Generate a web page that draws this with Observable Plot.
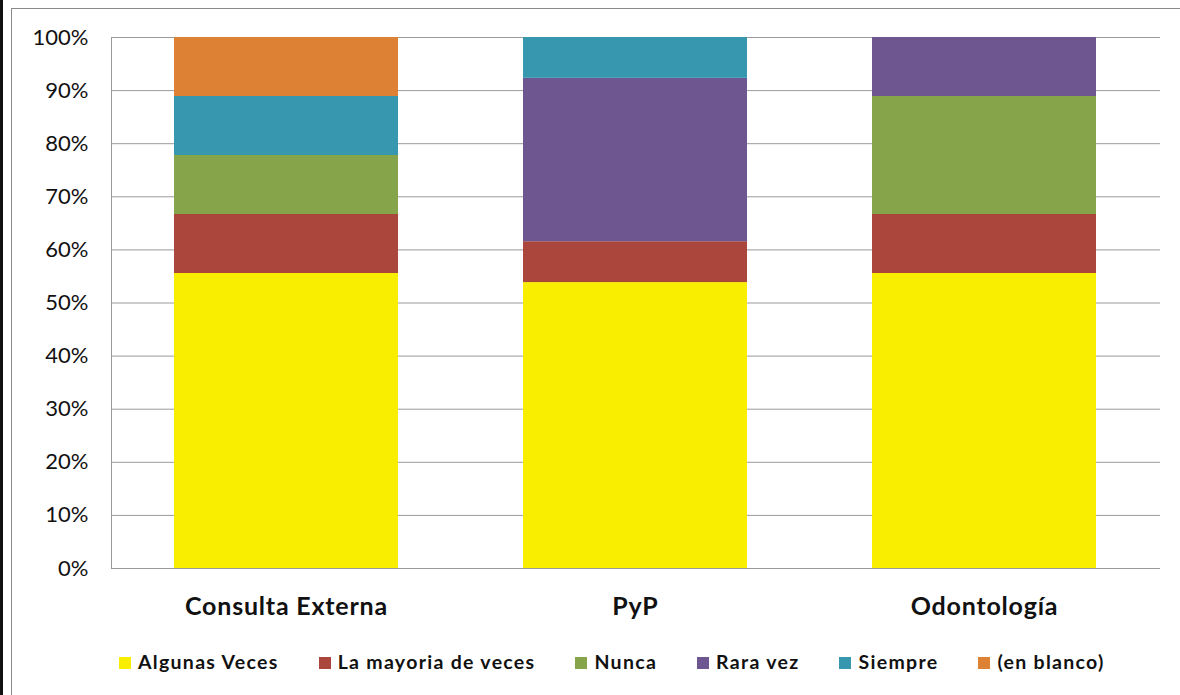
<!DOCTYPE html>
<html>
<head>
<meta charset="utf-8">
<script src="https://cdn.jsdelivr.net/npm/d3@7"></script>
<script src="https://cdn.jsdelivr.net/npm/@observablehq/plot@0.6"></script>
<style>
  html, body { margin: 0; padding: 0; background: #fff; }
  #wrap { position: relative; width: 1180px; height: 695px; overflow: hidden; font-family: Lato, "Open Sans", sans-serif; }
  #strip { position: absolute; left: 0; top: 0; width: 3px; height: 695px; background: #111; }
  #border { position: absolute; left: 11px; top: 8px; width: 1200px; height: 720px; border: 1px solid #8a8a8a; box-sizing: border-box; }
  #chart { position: absolute; left: 0; top: 0; }
  #legend { position: absolute; left: 119px; top: 650px; display: flex; align-items: center; font-weight: 700; font-size: 19.5px; letter-spacing: 1.3px; color: #111; white-space: nowrap; }
  .item { display: flex; align-items: center; margin-right: 40px; }
  .sw { width: 12px; height: 12px; margin-right: 7px; margin-top: 2px; }
</style>
</head>
<body>
<div id="wrap">
  <div id="strip"></div>
  <div id="border"></div>
  <div id="chart"></div>
  <div id="legend"></div>
</div>
<script>
const categories = ["Consulta Externa", "PyP", "Odontología"];
const respuestas = ["Algunas Veces", "La mayoria de veces", "Nunca", "Rara vez", "Siempre", "(en blanco)"];
const colores = ["#F9ED00", "#AB463D", "#86A44A", "#6E5790", "#3797AF", "#DD8135"];

// counts per category (Consulta Externa, PyP, Odontología)
const algunasVeces = [5, 7, 5];
const laMayoria    = [1, 1, 1];
const nunca        = [1, 0, 2];
const raraVez      = [0, 4, 1];
const siempre      = [1, 1, 0];
const enBlanco     = [1, 0, 0];

const yTicks = [0, 0.1, 0.2, 0.3, 0.4, 0.5, 0.6, 0.7, 0.8, 0.9, 1];

const series = [algunasVeces, laMayoria, nunca, raraVez, siempre, enBlanco];
const rows = [];
respuestas.forEach((r, i) => {
  categories.forEach((c, j) => {
    rows.push({cat: c, resp: r, n: series[i][j]});
  });
});

const plot = Plot.plot({
  width: 1180,
  height: 640,
  marginTop: 37,
  marginBottom: 72,
  marginLeft: 111,
  marginRight: 20,
  style: { fontFamily: "Lato, 'Open Sans', sans-serif", background: "transparent", color: "#111" },
  x: { domain: categories, paddingInner: 0.357, paddingOuter: 0.1785, label: null },
  y: { domain: [0, 1], label: null },
  color: { domain: respuestas, range: colores },
  marks: [
    Plot.gridY(yTicks, { stroke: "#9a9a9a", strokeOpacity: 1, strokeWidth: 1 }),
    Plot.barY(rows, { x: "cat", y: "n", fill: "resp", offset: "normalize", order: respuestas }),
    Plot.ruleY([0], { stroke: "#9a9a9a", strokeWidth: 1 }),
    Plot.frame({ anchor: "left", stroke: "#9a9a9a" }),
    Plot.axisY(yTicks, { tickSize: 0, tickPadding: 23, tickFormat: d3.format(".0%"), fontSize: 22, label: null }),
    Plot.axisX({ tickSize: 0, tickPadding: 29, fontSize: 25, fontWeight: 700, letterSpacing: 0.8, label: null })
  ]
});
document.getElementById("chart").appendChild(plot);
plot.querySelectorAll("g[aria-label='x-axis tick label'] text").forEach(t => t.style.letterSpacing = "0.8px");

const legend = document.getElementById("legend");
respuestas.forEach((r, i) => {
  const it = document.createElement("div");
  it.className = "item";
  const sw = document.createElement("span");
  sw.className = "sw";
  sw.style.background = colores[i];
  const t = document.createElement("span");
  t.textContent = r;
  it.appendChild(sw);
  it.appendChild(t);
  legend.appendChild(it);
});
</script>
</body>
</html>
